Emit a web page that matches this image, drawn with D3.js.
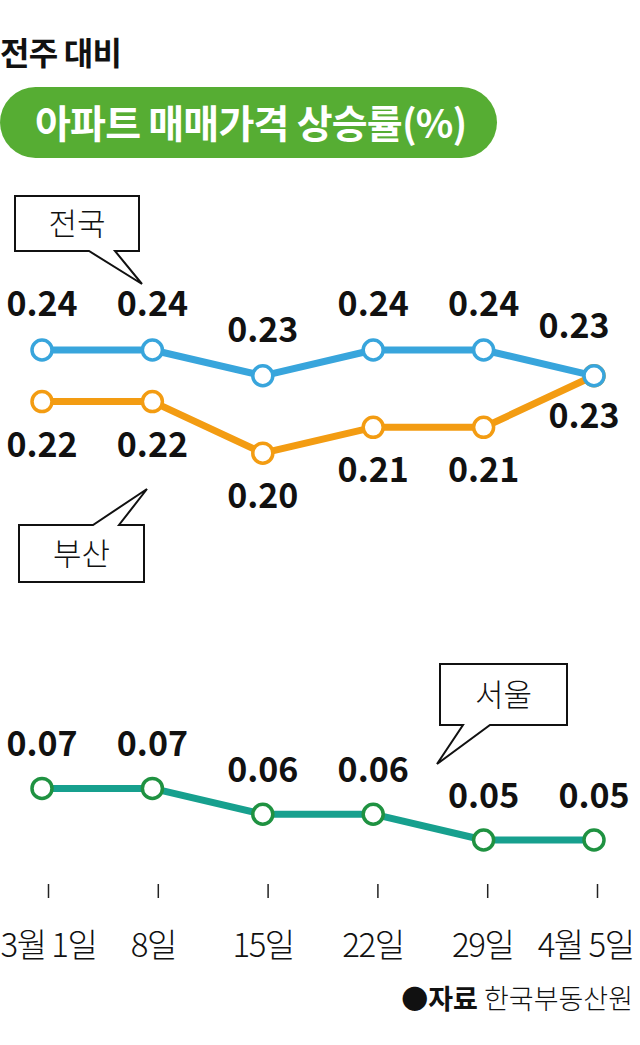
<!DOCTYPE html>
<html><head><meta charset="utf-8">
<script src="https://cdn.jsdelivr.net/npm/d3@7"></script>
<style>
html,body{margin:0;padding:0;background:#fff;}
svg{display:block;font-family:"Noto Sans CJK KR","Noto Sans",sans-serif;}
</style></head>
<body>
<svg id="c" width="640" height="1045"></svg>
<script>
const categories = ["3월 1일","8일","15일","22일","29일","4월 5일"];
const national = [0.24,0.24,0.23,0.24,0.24,0.23];
const busan = [0.22,0.22,0.20,0.21,0.21,0.23];
const seoul = [0.07,0.07,0.06,0.06,0.05,0.05];
const seriesNames = ["전국","부산","서울"];
const subtitle = "전주 대비";
const title = "아파트 매매가격 상승률(%)";
const source = "한국부동산원";

const svg = d3.select("#c");
const x = d3.scalePoint().domain(categories).range([42, 594]);
const xa = d3.scalePoint().domain(categories).range([48, 597]);
const y = d3.scaleLinear().domain([0.05, 0.24]).range([840, 350]);

// header
svg.append("text").attr("x",0).attr("y",65).attr("font-size",32).attr("font-weight",700)
  .attr("letter-spacing",-0.8).attr("fill","#111").text(subtitle);
svg.append("rect").attr("x",0).attr("y",87).attr("width",497).attr("height",71).attr("rx",35.5).attr("fill","#56ad33");
svg.append("text").attr("x",35).attr("y",138).attr("font-size",39).attr("font-weight",700)
  .attr("letter-spacing",-0.8).attr("fill","#fff").text(title);

// axis
const axis = d3.axisBottom(xa).tickSize(14).tickPadding(0);
const ag = svg.append("g").attr("transform","translate(0,884)").call(axis);
ag.select(".domain").remove();
ag.selectAll(".tick line").attr("stroke","#222").attr("stroke-width",1.5);
ag.selectAll(".tick text").attr("fill","#111").attr("font-size",33).attr("letter-spacing",-1.5)
  .attr("font-family","'Noto Sans CJK KR',sans-serif").attr("font-weight",300)
  .attr("dy",null).attr("y",73);
ag.selectAll(".tick text").each(function(){
  const t=d3.select(this);
  const tx=xa(t.datum());
  const w=this.getComputedTextLength();
  let cx=tx-5;
  if(cx-w/2<0) cx=w/2;
  if(cx+w/2>633) cx=633-w/2;
  t.attr("x",cx-tx);
});

// lines
function drawSeries(data, lineColor, dotColor){
  const line = d3.line().x((d,i)=>x(categories[i])).y(d=>y(d));
  svg.append("path").datum(data).attr("d",line).attr("fill","none")
    .attr("stroke",lineColor).attr("stroke-width",7).attr("stroke-linejoin","round");
  svg.append("g").selectAll("circle").data(data).join("circle")
    .attr("cx",(d,i)=>x(categories[i])).attr("cy",d=>y(d)).attr("r",10)
    .attr("fill","#fff").attr("stroke",dotColor).attr("stroke-width",3.5);
}
function drawLabels(data, labelDy, lastDx, lastDy){
  svg.append("g").selectAll("text").data(data).join("text")
    .attr("x",(d,i)=>x(categories[i]) + (i===data.length-1?lastDx:0))
    .attr("y",(d,i)=>y(d)+labelDy+(i===data.length-1?lastDy:0)+12)
    .attr("text-anchor","middle").attr("font-size",34).attr("font-weight",700)
    .attr("fill","#111").text(d=>d.toFixed(2));
}
drawSeries(busan,"#f39c12","#f39c12");
drawSeries(national,"#38a5dc","#38a5dc");
drawSeries(seoul,"#17a08e","#1f9241");
drawLabels(national,-46,-20,-4);
drawLabels(busan,43,-10,-3);
drawLabels(seoul,-44,0,0);

// callouts
function box(bx,by,bw,bh,t1,t2,tip,top,label){
  const g=svg.append("g");
  const L=bx,R=bx+bw,T=by,B=by+bh;
  let d;
  if(!top){
    d=`M${L},${T}H${R}V${B}H${t2}L${tip[0]},${tip[1]}L${t1},${B}H${L}Z`;
  } else {
    d=`M${L},${T}H${t1}L${tip[0]},${tip[1]}L${t2},${T}H${R}V${B}H${L}Z`;
  }
  g.append("path").attr("d",d).attr("fill","#fff").attr("stroke","#111").attr("stroke-width",2);
  g.append("text").attr("x",bx+bw/2).attr("y",by+bh/2+11).attr("text-anchor","middle")
    .attr("font-size",31).attr("font-weight",300).attr("fill","#111").text(label);
}
box(15,196,124,55,89,115,[142,284],false,seriesNames[0]);
box(19,525,125,57,93,119,[147,489],true,seriesNames[1]);
box(440,664,127,61,463,490,[437,764],false,seriesNames[2]);

// source
const st=svg.append("text").attr("x",633).attr("y",1009).attr("text-anchor","end").attr("font-size",27).attr("fill","#111");
st.append("tspan").attr("font-weight",700).text("●자료 ");
st.append("tspan").attr("font-weight",300).text(source);
</script>
</body></html>
